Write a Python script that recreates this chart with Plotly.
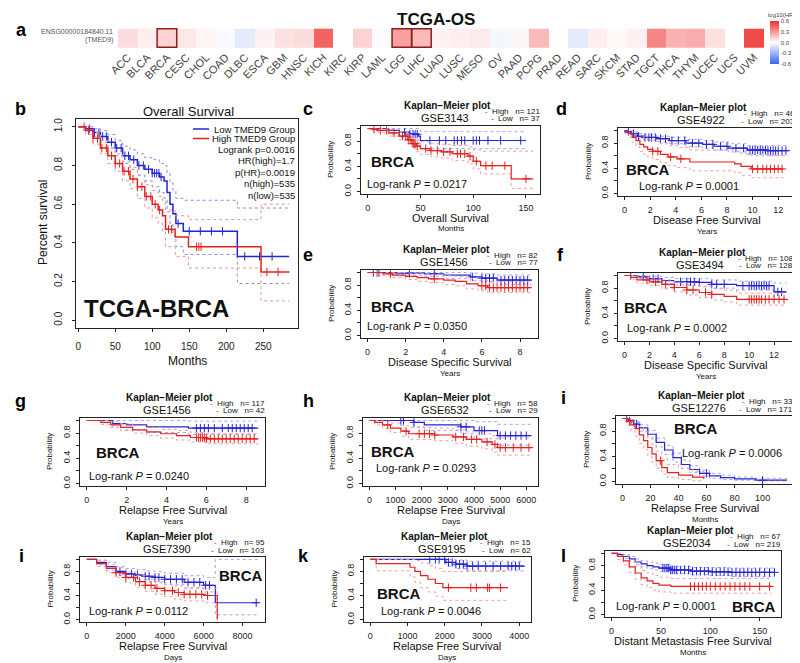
import numpy as np
import plotly.graph_objects as go

# ---------------- DATA ----------------
hm_cancers = ['ACC','BLCA','BRCA','CESC','CHOL','COAD','DLBC','ESCA','GBM','HNSC','KICH','KIRC','KIRP',
              'LAML','LGG','LIHC','LUAD','LUSC','MESO','OV','PAAD','PCPG','PRAD','READ','SARC','SKCM',
              'STAD','TGCT','THCA','THYM','UCEC','UCS','UVM']
hm_log10hr = [0.10, 0.05, 0.13, 0.07, 0.03, -0.02, -0.08, 0.04, 0.09, 0.10, 0.45, 0.0, 0.13,
              -0.01, 0.27, 0.20, 0.04, 0.05, 0.06, -0.03, 0.03, 0.20, 0.0, -0.08, 0.05, 0.02,
              0.04, 0.35, 0.22, 0.24, 0.09, 0.0, 0.52]
hm_significant = ['BRCA', 'LGG', 'LIHC']
hm_colorbar_ticks = [-0.6, -0.3, 0.0, 0.3, 0.6]

# Panel b (GEPIA, TCGA-BRCA overall survival, months)
b_low_t = [0, 10, 20, 30, 40, 50, 60, 70, 80, 90, 100, 110, 116, 120, 124, 128, 132, 142, 215, 285]
b_low_s = [1.0, 0.99, 0.97, 0.95, 0.92, 0.89, 0.85, 0.83, 0.80, 0.78, 0.76, 0.74, 0.72, 0.66, 0.60, 0.55, 0.50, 0.46, 0.33, 0.33]
b_low_lo = [1.0, 0.98, 0.95, 0.92, 0.89, 0.85, 0.81, 0.78, 0.75, 0.72, 0.69, 0.66, 0.63, 0.56, 0.50, 0.44, 0.38, 0.34, 0.19, 0.19]
b_low_hi = [1.0, 1.0, 0.99, 0.98, 0.96, 0.93, 0.90, 0.88, 0.86, 0.84, 0.83, 0.81, 0.80, 0.76, 0.71, 0.67, 0.63, 0.62, 0.58, 0.58]
b_low_cens = [15, 22, 28, 33, 38, 45, 52, 58, 63, 68, 75, 82, 88, 95, 100, 103, 106, 109, 112, 135, 150, 165, 180, 195, 225, 245, 262]
b_high_t = [0, 10, 20, 30, 40, 50, 60, 70, 80, 90, 100, 108, 114, 118, 131, 149, 247, 285]
b_high_s = [1.0, 0.98, 0.94, 0.89, 0.85, 0.81, 0.77, 0.73, 0.69, 0.64, 0.60, 0.57, 0.54, 0.47, 0.43, 0.38, 0.25, 0.25]
b_high_lo = [1.0, 0.96, 0.91, 0.86, 0.81, 0.77, 0.72, 0.68, 0.63, 0.58, 0.53, 0.50, 0.46, 0.38, 0.33, 0.27, 0.10, 0.10]
b_high_hi = [1.0, 1.0, 0.97, 0.93, 0.89, 0.86, 0.82, 0.79, 0.75, 0.70, 0.67, 0.64, 0.62, 0.57, 0.54, 0.52, 0.60, 0.60]
b_high_cens = [8, 14, 20, 26, 32, 38, 45, 50, 56, 62, 68, 74, 80, 86, 92, 98, 104, 110, 122, 126, 160, 163, 166, 255, 270]
b_stats = ['Logrank p=0.0016', 'HR(high)=1.7', 'p(HR)=0.0019', 'n(high)=535', 'n(low)=535']
b_xticks = [0, 50, 100, 150, 200, 250]

# Panel c  GSE3143  OS months
c_high_t = [0, 5, 10, 20, 30, 38, 42, 46, 50, 60, 70, 80, 95, 100, 107, 136, 157]
c_high_s = [1.0, 0.99, 0.97, 0.93, 0.88, 0.82, 0.76, 0.72, 0.68, 0.65, 0.63, 0.60, 0.56, 0.48, 0.41, 0.20, 0.20]
c_high_lo = [1.0, 0.97, 0.94, 0.88, 0.82, 0.75, 0.68, 0.63, 0.59, 0.55, 0.53, 0.49, 0.44, 0.36, 0.28, 0.05, 0.05]
c_high_hi = [1.0, 1.0, 1.0, 0.98, 0.94, 0.90, 0.85, 0.82, 0.79, 0.76, 0.75, 0.73, 0.71, 0.66, 0.64, 0.64, 0.64]
c_high_cens = [6, 12, 18, 25, 33, 36, 39, 41, 43, 44, 45, 47, 55, 60, 66, 72, 78, 85, 88, 92, 97, 103, 112, 118, 130, 150]
c_low_t = [0, 20, 30, 40, 48, 50, 150]
c_low_s = [1.0, 0.97, 0.94, 0.91, 0.88, 0.81, 0.81]
c_low_lo = [1.0, 0.91, 0.86, 0.81, 0.77, 0.68, 0.68]
c_low_hi = [1.0, 1.0, 1.0, 1.0, 0.99, 0.95, 0.95]
c_low_cens = [35, 40, 43, 45, 47, 59, 68, 74, 82, 85, 89, 92, 100, 103, 106, 114, 126, 145]

# Panel d  GSE4922  DFS years
d_high_t = [0, 0.3, 0.6, 0.9, 1.2, 1.5, 1.8, 2.2, 2.8, 3.4, 4.1, 5.1, 8.6, 9.1, 9.9, 12.4]
d_high_s = [1.0, 0.95, 0.89, 0.84, 0.78, 0.74, 0.70, 0.67, 0.62, 0.58, 0.55, 0.50, 0.47, 0.43, 0.39, 0.39]
d_high_lo = [1.0, 0.89, 0.81, 0.74, 0.67, 0.62, 0.58, 0.54, 0.49, 0.44, 0.41, 0.36, 0.33, 0.29, 0.25, 0.25]
d_high_hi = [1.0, 1.0, 0.98, 0.95, 0.91, 0.88, 0.85, 0.83, 0.79, 0.76, 0.73, 0.69, 0.67, 0.63, 0.60, 0.60]
d_high_cens = [2.2, 2.6, 3.6, 4.4, 10.0, 10.4, 10.8, 11.1, 11.4, 11.7, 12.0, 12.3]
d_low_t = [0, 0.5, 1.0, 1.5, 2.5, 3.5, 4.8, 6.1, 7.0, 8.1, 9.6, 11.1, 12.8]
d_low_s = [0.98, 0.95, 0.91, 0.89, 0.87, 0.84, 0.80, 0.78, 0.75, 0.72, 0.69, 0.68, 0.68]
d_low_lo = [0.96, 0.92, 0.87, 0.85, 0.82, 0.79, 0.74, 0.72, 0.69, 0.66, 0.62, 0.60, 0.60]
d_low_hi = [1.0, 0.98, 0.95, 0.93, 0.91, 0.89, 0.86, 0.84, 0.82, 0.79, 0.76, 0.76, 0.76]
d_low_cens = [0.3, 0.7, 1.1, 1.6, 1.9, 2.1, 2.4, 2.8, 3.2, 3.7, 4.2, 4.7, 5.3, 5.8, 6.4, 6.9, 7.5, 8.0, 8.7,
              9.3, 9.8, 10.0, 10.2, 10.4, 10.6, 10.8, 11.0, 11.2, 11.4, 11.6, 11.8, 12.0, 12.3, 12.6]

# Panel e  GSE1456  DSS years
e_high_t = [0, 0.8, 1.3, 2.0, 2.6, 3.2, 4.0, 4.6, 5.2, 5.8, 6.3, 8.6]
e_high_s = [1.0, 0.98, 0.96, 0.94, 0.92, 0.90, 0.88, 0.86, 0.82, 0.79, 0.76, 0.76]
e_high_lo = [1.0, 0.95, 0.92, 0.89, 0.86, 0.84, 0.81, 0.79, 0.74, 0.71, 0.68, 0.68]
e_high_hi = [1.0, 1.0, 1.0, 0.99, 0.98, 0.97, 0.95, 0.94, 0.91, 0.88, 0.86, 0.86]
e_high_cens = [0.5, 1.2, 3.5, 6.0, 6.2, 6.4, 6.6, 6.8, 7.0, 7.2, 7.4, 7.6, 7.8, 8.0, 8.2, 8.4]
e_low_t = [0, 1.5, 3.0, 4.0, 5.4, 6.0, 6.8, 8.6]
e_low_s = [1.0, 0.99, 0.98, 0.96, 0.93, 0.91, 0.88, 0.88]
e_low_lo = [1.0, 0.96, 0.94, 0.91, 0.87, 0.85, 0.81, 0.81]
e_low_hi = [1.0, 1.0, 1.0, 1.0, 0.99, 0.98, 0.96, 0.96]
e_low_cens = [0.3, 0.6, 2.2, 3.5, 5.5, 6.0, 6.2, 6.4, 6.6, 7.0, 7.2, 7.4, 7.6, 7.8, 8.0, 8.2, 8.4]

# Panel f  GSE3494  DSS years
f_high_t = [0, 0.5, 1.0, 2.0, 3.0, 4.0, 5.0, 6.0, 7.0, 8.0, 9.0, 13.0]
f_high_s = [1.0, 0.97, 0.93, 0.90, 0.86, 0.81, 0.77, 0.73, 0.70, 0.67, 0.62, 0.62]
f_high_lo = [1.0, 0.94, 0.88, 0.84, 0.79, 0.74, 0.69, 0.65, 0.61, 0.58, 0.53, 0.53]
f_high_hi = [1.0, 1.0, 0.98, 0.96, 0.93, 0.89, 0.85, 0.82, 0.79, 0.77, 0.72, 0.72]
f_high_cens = [1.8, 2.5, 3.3, 4.0, 5.0, 5.5, 6.5, 7.0, 10.0, 10.2, 10.4, 10.6, 10.8, 11.0, 11.3, 11.6, 12.0, 12.4, 12.8]
f_low_t = [0, 1.0, 2.0, 3.0, 4.0, 6.0, 7.0, 9.0, 12.0, 13.0]
f_low_s = [1.0, 0.98, 0.95, 0.92, 0.90, 0.89, 0.86, 0.84, 0.74, 0.74]
f_low_lo = [1.0, 0.95, 0.91, 0.87, 0.85, 0.83, 0.80, 0.77, 0.62, 0.62]
f_low_hi = [1.0, 1.0, 0.99, 0.97, 0.95, 0.95, 0.93, 0.91, 0.88, 0.88]
f_low_cens = [0.5, 1.5, 2.3, 2.7, 4.5, 5.0, 5.3, 5.6, 6.0, 7.0, 7.4, 8.0, 9.5, 10.0, 10.2, 10.4, 10.6,
              10.8, 11.0, 11.2, 11.4, 11.6, 12.3, 12.6]

# Panel g  GSE1456  RFS years
g_high_t = [0, 0.7, 1.2, 1.7, 2.3, 3.0, 3.7, 4.5, 5.2, 6.0, 8.6]
g_high_s = [1.0, 0.97, 0.93, 0.89, 0.85, 0.82, 0.79, 0.76, 0.73, 0.71, 0.71]
g_high_lo = [1.0, 0.94, 0.89, 0.84, 0.80, 0.76, 0.72, 0.69, 0.66, 0.63, 0.63]
g_high_hi = [1.0, 1.0, 0.98, 0.95, 0.92, 0.89, 0.86, 0.84, 0.81, 0.79, 0.79]
g_high_cens = [5.5, 5.6, 5.7, 5.8, 5.9, 6.0, 6.2, 6.4, 6.6, 6.8, 7.0, 7.2, 7.4, 7.6, 7.8, 8.0, 8.2, 8.4]
g_low_t = [0, 1.3, 2.0, 3.0, 5.1, 8.6]
g_low_s = [1.0, 0.95, 0.93, 0.90, 0.88, 0.88]
g_low_lo = [1.0, 0.89, 0.85, 0.81, 0.78, 0.78]
g_low_hi = [1.0, 1.0, 1.0, 1.0, 0.99, 0.99]
g_low_cens = [5.5, 5.7, 5.9, 6.1, 6.4, 6.8, 7.1, 7.3, 7.5, 7.7, 7.9, 8.1, 8.3]

# Panel h  GSE6532  RFS days
h_high_t = [0, 200, 500, 800, 1200, 1500, 2500, 3200, 3700, 4300, 4700, 4900, 6200]
h_high_s = [1.0, 0.97, 0.93, 0.88, 0.83, 0.79, 0.77, 0.74, 0.70, 0.66, 0.62, 0.57, 0.57]
h_high_lo = [1.0, 0.93, 0.87, 0.81, 0.75, 0.70, 0.68, 0.64, 0.59, 0.55, 0.50, 0.45, 0.45]
h_high_hi = [1.0, 1.0, 0.99, 0.96, 0.92, 0.89, 0.88, 0.85, 0.82, 0.79, 0.76, 0.72, 0.72]
h_high_cens = [700, 1400, 1900, 2100, 2300, 2500, 3300, 3600, 3900, 4100, 4500, 4800, 5000, 5200, 5500, 5800, 6100]
h_low_t = [0, 1700, 2100, 3500, 4000, 4900, 6200]
h_low_s = [1.0, 0.97, 0.93, 0.90, 0.84, 0.76, 0.76]
h_low_lo = [1.0, 0.90, 0.84, 0.79, 0.71, 0.61, 0.61]
h_low_hi = [1.0, 1.0, 1.0, 1.0, 0.98, 0.94, 0.94]
h_low_cens = [1200, 1300, 1700, 3500, 3700, 4200, 4300, 4400, 5000, 5200, 5400, 5600, 5800, 6000]

# Panel i  GSE12276  RFS months
i_high_t = [0, 3, 6, 9, 12, 15, 18, 21, 24, 28, 32, 40, 50, 58]
i_high_s = [1.0, 0.96, 0.90, 0.84, 0.74, 0.65, 0.54, 0.44, 0.33, 0.22, 0.14, 0.10, 0.07, 0.04]
i_high_lo = [1.0, 0.89, 0.80, 0.72, 0.60, 0.51, 0.40, 0.30, 0.21, 0.12, 0.06, 0.03, 0.01, 0.0]
i_high_hi = [1.0, 1.0, 0.98, 0.94, 0.87, 0.79, 0.69, 0.59, 0.48, 0.36, 0.27, 0.21, 0.16, 0.12]
i_high_cens = [5, 27]
i_low_t = [0, 4, 8, 12, 18, 24, 30, 36, 42, 48, 55, 62, 70, 80, 95, 117]
i_low_s = [1.0, 0.97, 0.91, 0.85, 0.75, 0.62, 0.50, 0.38, 0.27, 0.19, 0.13, 0.09, 0.06, 0.04, 0.02, 0.01]
i_low_lo = [1.0, 0.94, 0.87, 0.80, 0.69, 0.55, 0.43, 0.31, 0.21, 0.14, 0.09, 0.05, 0.03, 0.02, 0.01, 0.0]
i_low_hi = [1.0, 0.99, 0.95, 0.90, 0.81, 0.69, 0.57, 0.45, 0.34, 0.25, 0.18, 0.13, 0.10, 0.07, 0.05, 0.03]
i_low_cens = [3, 10, 60, 100]

# Panel j  GSE7390  RFS days
j_high_t = [0, 500, 1000, 1500, 2000, 2500, 3000, 3500, 4000, 4500, 5000, 6000, 6700]
j_high_s = [1.0, 0.93, 0.85, 0.78, 0.70, 0.63, 0.57, 0.52, 0.48, 0.45, 0.42, 0.40, 0.0]
j_high_lo = [1.0, 0.88, 0.78, 0.70, 0.61, 0.54, 0.47, 0.42, 0.38, 0.34, 0.31, 0.28, 0.0]
j_high_hi = [1.0, 0.98, 0.92, 0.86, 0.79, 0.73, 0.67, 0.63, 0.59, 0.56, 0.53, 0.52, 0.0]
j_high_cens = [1500, 2000, 2400, 2700, 3000, 3300, 3600, 4000, 4400, 4700, 5000, 5300, 5600, 5900, 6200]
j_low_t = [0, 500, 1000, 1500, 2000, 2500, 3000, 3500, 4000, 5000, 6000, 6600, 8800]
j_low_s = [1.0, 0.95, 0.88, 0.80, 0.76, 0.74, 0.72, 0.70, 0.67, 0.62, 0.57, 0.28, 0.28]
j_low_lo = [1.0, 0.91, 0.82, 0.73, 0.68, 0.66, 0.63, 0.61, 0.58, 0.52, 0.46, 0.08, 0.08]
j_low_hi = [1.0, 0.99, 0.95, 0.88, 0.85, 0.83, 0.81, 0.80, 0.77, 0.73, 0.70, 1.0, 1.0]
j_low_cens = [1700, 2000, 2300, 2600, 3000, 3200, 3500, 3700, 4000, 4300, 4600, 4900, 5200, 5500, 5800, 6100, 6300, 8700]

# Panel k  GSE9195  RFS days
k_high_t = [0, 160, 1070, 1200, 1350, 1550, 1750, 1950, 3700]
k_high_s = [1.0, 0.93, 0.87, 0.80, 0.73, 0.67, 0.60, 0.53, 0.53]
k_high_lo = [1.0, 0.81, 0.71, 0.62, 0.53, 0.46, 0.39, 0.32, 0.32]
k_high_hi = [1.0, 1.0, 1.0, 0.98, 0.94, 0.90, 0.85, 0.80, 0.80]
k_high_cens = [2100, 2700, 2850, 3150, 3200, 3500]
k_low_t = [0, 2030, 2300, 2600, 4150]
k_low_s = [1.0, 0.95, 0.92, 0.89, 0.89]
k_low_lo = [1.0, 0.89, 0.85, 0.81, 0.81]
k_low_hi = [1.0, 1.0, 0.99, 0.97, 0.97]
k_low_cens = [1600, 1750, 1850, 2000, 2100, 2200, 2300, 2400, 2500, 2600, 2750, 2900, 3100, 3300, 3500, 3700, 3800, 3900, 4000]

# Panel l  GSE2034  DMFS months
l_high_t = [0, 6, 12, 18, 24, 30, 36, 42, 48, 60, 162]
l_high_s = [1.0, 0.95, 0.88, 0.78, 0.68, 0.60, 0.55, 0.51, 0.48, 0.46, 0.46]
l_high_lo = [1.0, 0.90, 0.81, 0.69, 0.58, 0.49, 0.44, 0.40, 0.37, 0.35, 0.35]
l_high_hi = [1.0, 1.0, 0.96, 0.88, 0.79, 0.72, 0.68, 0.64, 0.61, 0.59, 0.59]
l_high_cens = [80, 84, 88, 92, 96, 100, 105, 110, 115, 120, 125, 130, 135, 140, 150, 160]
l_low_t = [0, 6, 12, 18, 24, 30, 36, 42, 48, 60, 80, 100, 120, 165]
l_low_s = [1.0, 0.98, 0.95, 0.91, 0.86, 0.83, 0.80, 0.78, 0.76, 0.73, 0.71, 0.70, 0.69, 0.69]
l_low_lo = [1.0, 0.96, 0.92, 0.87, 0.82, 0.78, 0.75, 0.73, 0.71, 0.67, 0.65, 0.64, 0.62, 0.62]
l_low_hi = [1.0, 1.0, 0.98, 0.95, 0.91, 0.88, 0.86, 0.84, 0.82, 0.79, 0.77, 0.77, 0.76, 0.76]
l_low_cens = [52, 54, 56, 58, 60, 62, 64, 66, 70, 74, 78, 82, 86, 90, 94, 98, 102, 106, 110, 114, 118,
              122, 126, 130, 134, 138, 142, 146, 150, 155, 160, 165]

km_keys = ['c', 'd', 'e', 'f', 'g', 'h', 'i', 'j', 'k', 'l']
km_datasets = ['GSE3143', 'GSE4922', 'GSE1456', 'GSE3494', 'GSE1456', 'GSE6532', 'GSE12276', 'GSE7390', 'GSE9195', 'GSE2034']
km_n_high = [121, 46, 82, 108, 117, 58, 33, 95, 15, 67]
km_n_low = [37, 203, 77, 128, 42, 29, 171, 103, 62, 219]
km_logrank = ['0.0217', '0.0001', '0.0350', '0.0002', '0.0240', '0.0293', '0.0006', '0.0112', '0.0046', '0.0001']
km_endpoint = ['Overall Survival', 'Disease Free Survival', 'Disease Specific Survival', 'Disease Specific Survival',
               'Relapse Free Survival', 'Relapse Free Survival', 'Relapse Free Survival', 'Relapse Free Survival',
               'Relapse Free Survival', 'Distant Metastasis Free Survival']
km_unit = ['Months', 'Years', 'Years', 'Years', 'Years', 'Days', 'Months', 'Days', 'Days', 'Months']
km_xticks = [[0, 50, 100, 150], [0, 2, 4, 6, 8, 10, 12], [0, 2, 4, 6, 8], [0, 2, 4, 6, 8, 10, 12],
             [0, 2, 4, 6, 8], [0, 1000, 2000, 3000, 4000, 5000, 6000], [0, 20, 40, 60, 80, 100],
             [0, 2000, 4000, 6000, 8000], [0, 1000, 2000, 3000, 4000], [0, 50, 100, 150]]
panel_letters = ['a', 'b', 'c', 'd', 'e', 'f', 'g', 'h', 'i', 'i', 'k', 'l']

# ---------------- LAYOUT / STYLE ----------------
W, H = 800, 663
FONT = 'Liberation Sans, Arial, Helvetica, sans-serif'
RED, BLUE = '#E3211F', '#2424D4'
RED_CI, BLUE_CI = '#F0A0A0', '#A4A4EC'

# box (left, right, top, bottom) in px
BOX = {
    'b': (68, 290, 111, 320),
    'c': (353, 532, 118, 186), 'd': (610, 787, 120, 188),
    'e': (353, 530, 262, 330), 'f': (610, 785, 265, 333),
    'g': (72, 257, 410, 478), 'h': (355, 530, 410, 478), 'i': (608, 785, 408, 476),
    'j': (72, 257, 549, 614), 'k': (356, 523, 549, 614), 'l': (597, 773, 543, 609),
}
BRCA_POS = {'c': (362, 153, 'left'), 'd': (617, 161, 'left'), 'e': (362, 298, 'left'), 'f': (615, 300, 'left'),
            'g': (87, 445, 'left'), 'h': (362, 443, 'left'), 'i': (687, 420, 'center'),
            'j': (255, 567, 'right'), 'k': (368, 585, 'left'), 'l': (768, 598, 'right')}
LR_POS = {'c': (358, 176, 'left'), 'd': (630, 178, 'left'), 'e': (358, 318, 'left'), 'f': (618, 320, 'left'),
          'g': (80, 468, 'left'), 'h': (367, 460, 'left'), 'i': (775, 445, 'right'),
          'j': (80, 603, 'left'), 'k': (372, 603, 'left'), 'l': (607, 598, 'left')}
LETTER_POS = [(13, 22), (12, 101), (300, 101), (553, 101), (300, 247), (552, 247),
              (12, 393), (300, 393), (555, 390), (13, 548), (295, 548), (555, 548)]

fig = go.Figure()
annotations = []
shapes = []


def px(x):
    return x / W


def py(y):
    return 1 - y / H


def ann(x, y, text, size, color='#111', xanchor='center', yanchor='middle', bold=False, angle=0):
    if bold:
        text = '<b>' + text + '</b>'
    annotations.append(dict(x=px(x), y=py(y), xref='paper', yref='paper', text=text, showarrow=False,
                            xanchor=xanchor, yanchor=yanchor, textangle=angle, borderpad=0,
                            font=dict(size=size, color=color, family=FONT)))


def step_at(t, s, c):
    idx = np.searchsorted(np.asarray(t, float), np.asarray(c, float), side='right') - 1
    idx = np.clip(idx, 0, len(s) - 1)
    return np.asarray(s, float)[idx]


def add_curve(n, t, s, lo, hi, cens, color, ci_color, symbol, msize, width):
    xa, ya = 'x%d' % n, 'y%d' % n
    for band in (lo, hi):
        fig.add_trace(go.Scatter(x=t, y=band, mode='lines', xaxis=xa, yaxis=ya, hoverinfo='skip',
                                 line=dict(color=ci_color, width=1, dash='dot', shape='hv'), showlegend=False))
    fig.add_trace(go.Scatter(x=t, y=s, mode='lines', xaxis=xa, yaxis=ya, showlegend=False,
                             line=dict(color=color, width=width, shape='hv')))
    if len(cens):
        fig.add_trace(go.Scatter(x=cens, y=step_at(t, s, cens), mode='markers', xaxis=xa, yaxis=ya,
                                 showlegend=False,
                                 marker=dict(symbol=symbol, size=msize, color=color,
                                             line=dict(width=1, color=color))))


def set_axes(n, box, xr, xticks, yr, ytickvals, yticktext, fs, standoff=2):
    l, r, t, b = box
    common = dict(showline=True, mirror=True, linecolor='#222', linewidth=1, ticks='outside', ticklen=3,
                  tickcolor='#222', showgrid=False, zeroline=False, automargin=False,
                  tickfont=dict(size=fs, color='#222', family=FONT), ticklabelstandoff=standoff)
    fig.update_layout(**{
        'xaxis%d' % n: dict(domain=[px(l), px(r)], anchor='y%d' % n, range=xr, tickvals=xticks, **common),
        'yaxis%d' % n: dict(domain=[py(b), py(t)], anchor='x%d' % n, range=yr, tickvals=ytickvals,
                            ticktext=yticktext, tickangle=-90, **common),
    })


# ---------------- Panel a : heatmap ----------------
fig.add_trace(go.Heatmap(
    x=hm_cancers, y=['TMED9'], z=[hm_log10hr], zmin=-0.6, zmax=0.6,
    colorscale=[[0, '#3567F0'], [0.5, '#FFFFFF'], [1, '#EF2F2D']],
    xaxis='x', yaxis='y', showscale=True,
    colorbar=dict(x=px(762), xanchor='left', y=py(13), yanchor='top', len=43 / H, lenmode='fraction',
                  thickness=9, outlinewidth=0, xpad=0, ypad=0, tickvals=hm_colorbar_ticks,
                  ticktext=['%.1f' % v for v in hm_colorbar_ticks], ticks='',
                  tickfont=dict(size=6, color='#444', family=FONT))))
fig.update_layout(
    xaxis=dict(domain=[px(110), px(756)], anchor='y', tickangle=-45, ticks='', showgrid=False, automargin=False,
               tickfont=dict(size=11, color='#444', family=FONT), showline=False, zeroline=False),
    yaxis=dict(domain=[py(40), py(20)], anchor='x', showticklabels=False, showgrid=False, zeroline=False,
               ticks='', automargin=False))
for name in hm_significant:
    k = hm_cancers.index(name)
    shapes.append(dict(type='rect', xref='x', yref='y', x0=k - 0.5, x1=k + 0.5, y0=-0.5, y1=0.5,
                       line=dict(color='#8B1D1D', width=1.5)))
ann(428, 11, 'TCGA-OS', 17, color='#111', bold=True)
ann(773, 7, 'log10(HR)', 6, color='#444')
ann(106, 24, 'ENSG00000184840.11', 7, color='#555', xanchor='right')
ann(106, 32, '(TMED9)', 7, color='#555', xanchor='right')

# ---------------- Panel b ----------------
set_axes(2, BOX['b'], [-3, 297], b_xticks, [-0.04, 1.04], [0, 0.2, 0.4, 0.6, 0.8, 1.0],
         ['0.0', '0.2', '0.4', '0.6', '0.8', '1.0'], 10, standoff=6)
add_curve(2, b_low_t, b_low_s, b_low_lo, b_low_hi, b_low_cens, BLUE, '#8C8CDA', 'line-ns', 6, 1.5)
add_curve(2, b_high_t, b_high_s, b_high_lo, b_high_hi, b_high_cens, RED, '#E59595', 'line-ns', 6, 1.5)
ann(180, 103, 'Overall Survival', 13)
ann(35, 215, 'Percent survival', 12, angle=-90)
ann(179, 353, 'Months', 12)
ann(75, 301, 'TCGA-BRCA', 24, bold=True, xanchor='left')
for yy, col, lab in [(121, BLUE, 'Low TMED9 Group'), (130.5, RED, 'High TMED9 Group')]:
    shapes.append(dict(type='line', xref='paper', yref='paper', x0=px(185), x1=px(201), y0=py(yy), y1=py(yy),
                       line=dict(color=col, width=1.5)))
    ann(288, yy, lab, 9.5, xanchor='right')
for k, txt in enumerate(b_stats):
    ann(288, 141 + k * 11.5, txt, 9.5, xanchor='right')

# ---------------- KM panels c..l ----------------
for idx, key in enumerate(km_keys):
    n = idx + 3
    box = BOX[key]
    l, r, t, b = box
    tvals = {nm: globals()['%s_%s' % (key, nm)] for nm in
             ['high_t', 'high_s', 'high_lo', 'high_hi', 'high_cens', 'low_t', 'low_s', 'low_lo', 'low_hi', 'low_cens']}
    tmax = max(max(tvals['high_t']), max(tvals['low_t']))
    pad = 0.04 * tmax
    set_axes(n, box, [-pad, tmax + pad], km_xticks[idx], [-0.04, 1.04],
             [0, 0.2, 0.4, 0.6, 0.8, 1.0], ['0.0', '', '0.4', '', '0.8', ''], 9)
    add_curve(n, tvals['low_t'], tvals['low_s'], tvals['low_lo'], tvals['low_hi'], tvals['low_cens'],
              BLUE, BLUE_CI, 'cross-thin', 6, 1.2)
    add_curve(n, tvals['high_t'], tvals['high_s'], tvals['high_lo'], tvals['high_hi'], tvals['high_cens'],
              RED, RED_CI, 'cross-thin', 6, 1.2)
    cx = (l + r) / 2
    ann(cx - 3, t - 21, 'Kaplan\u2212Meier plot', 10, bold=True)
    ann(cx - 6, t - 8, km_datasets[idx], 11)
    ann(r + 1, t - 15, "<span style='color:%s'>-</span>  High   n= %d" % (RED, km_n_high[idx]), 8,
        xanchor='right')
    ann(r + 1, t - 7, "<span style='color:%s'>-</span>  Low   n= %d" % (BLUE, km_n_low[idx]), 8,
        xanchor='right')
    ann(l - 30, (t + b) / 2, 'Probability', 8, angle=-90)
    ann(cx, b + 24, km_endpoint[idx], 11)
    ann(cx, b + 35, km_unit[idx], 8)
    bx, by, banc = BRCA_POS[key]
    ann(bx, by, 'BRCA', 15, bold=True, xanchor=banc)
    lx, ly, lanc = LR_POS[key]
    ann(lx, ly, 'Log-rank <i>P</i> = ' + km_logrank[idx], 11, xanchor=lanc)

for letter, (x, y) in zip(panel_letters, LETTER_POS):
    ann(x, y, letter, 18, color='#000', bold=True)

fig.update_layout(width=W, height=H, margin=dict(l=0, r=0, t=0, b=0, pad=0, autoexpand=False),
                  paper_bgcolor='white',
                  plot_bgcolor='white', annotations=annotations, shapes=shapes, showlegend=False,
                  font=dict(family=FONT))
fig.write_html('out.html')
